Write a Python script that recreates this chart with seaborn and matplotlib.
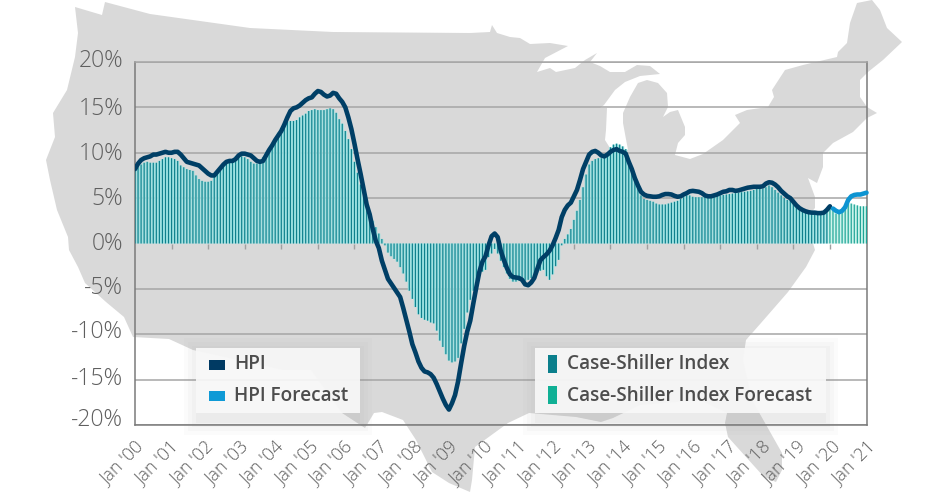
import numpy as np, pandas as pd
import matplotlib
matplotlib.use("Agg")
import matplotlib.pyplot as plt
import seaborn as sns
from matplotlib.patches import Polygon, Rectangle
from matplotlib.transforms import ScaledTranslation

HPI = [
 8.2,8.8,9.2,9.4,9.5,9.6,9.8,9.8,9.9,10.0,10.1,10.0,
 10.0,10.1,10.1,9.8,9.4,9.0,8.9,8.8,8.7,8.6,8.3,8.0,
 7.7,7.5,7.5,7.9,8.3,8.7,9.0,9.1,9.1,9.3,9.7,9.9,
 9.9,9.8,9.7,9.4,9.1,9.0,9.1,9.7,10.3,10.8,11.4,11.9,
 12.4,13.1,13.9,14.6,14.9,15.0,15.2,15.5,15.8,16.0,16.1,16.5,
 16.8,16.7,16.4,16.2,16.3,16.6,16.5,16.0,15.6,15.0,13.9,12.6,
 11.0,9.3,7.7,6.0,4.3,3.2,1.6,0.3,-0.5,-1.9,-2.9,-3.9,
 -4.4,-4.9,-5.4,-5.9,-7.1,-8.4,-9.7,-11.1,-12.0,-13.0,-13.7,-14.1,
 -14.2,-14.4,-14.8,-15.5,-16.3,-17.1,-17.8,-18.3,-17.6,-16.7,-15.2,-13.2,
 -11.3,-9.7,-8.5,-6.6,-4.8,-3.1,-2.0,-1.4,-0.2,0.8,1.1,0.7,
 -0.8,-1.8,-2.7,-3.4,-3.7,-3.75,-3.8,-4.0,-4.5,-4.6,-4.3,-3.8,
 -2.8,-1.85,-1.5,-1.2,-0.8,-0.2,0.6,1.5,2.9,3.7,4.2,4.5,
 5.2,5.9,7.0,8.2,9.0,9.8,10.1,10.2,10.0,9.7,9.6,9.8,
 10.1,10.3,10.4,10.2,10.1,9.9,9.0,8.2,7.2,6.4,5.7,5.4,
 5.25,5.2,5.15,5.15,5.2,5.35,5.45,5.45,5.4,5.25,5.15,5.2,
 5.4,5.55,5.75,5.8,5.75,5.7,5.55,5.3,5.2,5.2,5.3,5.4,
 5.55,5.7,5.75,5.9,5.9,5.8,5.85,5.95,6.05,6.15,6.2,6.25,
 6.25,6.25,6.3,6.6,6.75,6.7,6.5,6.2,5.8,5.5,5.2,5.0,
 4.6,4.2,3.9,3.7,3.55,3.45,3.4,3.4,3.35,3.35,3.4,3.7,
 4.1]
HPI_FORECAST = [3.85,3.6,3.45,3.6,4.0,4.8,5.2,5.35,5.4,5.4,5.5,5.6]
CASE_SHILLER = [
 8.1,8.4,8.7,8.9,9.0,8.9,8.9,8.9,9.1,9.3,9.5,9.5,
 9.4,9.3,9.1,8.6,8.4,8.2,8.1,8.0,7.5,7.1,6.9,6.8,
 6.8,6.9,7.4,7.8,8.3,8.7,9.0,9.1,9.3,9.6,9.7,9.6,
 9.5,9.3,9.0,8.8,8.8,8.9,9.5,10.0,10.3,10.8,11.5,12.2,
 12.7,13.2,13.4,13.5,13.5,13.6,13.9,14.1,14.3,14.6,14.7,14.8,
 14.7,14.7,14.7,14.8,14.9,14.8,14.4,13.7,13.2,12.4,11.5,10.4,
 9.0,7.8,6.5,5.2,4.2,3.3,2.5,1.8,1.1,0.5,-0.2,-1.0,
 -1.4,-1.7,-2.0,-2.6,-3.3,-4.2,-5.2,-6.1,-7.0,-7.8,-8.2,-8.4,
 -8.5,-8.7,-8.8,-9.6,-10.7,-11.4,-12.2,-12.9,-13.1,-13.0,-12.6,-11.0,
 -9.4,-7.6,-6.2,-5.2,-4.1,-3.4,-3.1,-2.9,-1.5,-1.1,-0.6,-1.1,
 -1.9,-2.6,-3.3,-3.9,-4.2,-4.2,-4.1,-4.0,-4.1,-4.0,-3.8,-3.5,
 -3.2,-3.0,-2.9,-3.6,-4.0,-3.4,-2.5,-1.8,-0.2,0.5,1.0,1.6,
 2.6,3.6,4.8,6.2,7.6,8.7,9.1,9.3,9.4,9.4,9.5,9.7,
 10.6,10.9,11.0,10.9,10.7,10.4,9.2,8.1,7.2,6.2,5.3,4.9,
 4.8,4.7,4.6,4.4,4.3,4.3,4.3,4.4,4.5,4.6,4.7,4.9,
 5.1,5.3,5.3,5.15,5.1,5.1,5.1,5.15,5.15,5.2,5.25,5.3,
 5.3,5.35,5.4,5.45,5.5,5.55,5.6,5.65,5.7,5.75,5.8,5.9,
 6.0,6.0,6.05,6.2,6.4,6.2,5.9,5.6,5.3,5.0,4.8,4.7,
 4.5,4.2,3.8,3.5,3.5,3.4,3.4,3.4,3.4,3.45,3.5,3.6]
CASE_SHILLER_FORECAST = [3.9,3.6,3.3,3.4,3.8,4.2,4.4,4.4,4.3,4.2,4.1,4.1,4.1]
X_LABELS = ["Jan '%02d" % y for y in range(0, 22)]
Y_VALUES = [20, 15, 10, 5, 0, -5, -10, -15, -20]
Y_LIFT_PX = [4, 1, 2, 2, 3, 4, 5, 4, 8]
LEGEND_LINES = ["HPI", "HPI Forecast"]
LEGEND_BARS = ["Case-Shiller Index", "Case-Shiller Index Forecast"]

# decorative backdrop outline, image pixels
MAP_OUTLINE = [(75,7),(102,15),(105,2),(150,14),(250,28),(333,32),(470,33),(490,32),(492,25),(497,33),(510,37),
 (520,38),(530,44),(550,43),(568,46),(545,58),(537,72),(550,68),(556,72),(575,68),(585,60),(597,53),(590,62),
 (600,66),(610,72),(625,72),(637,65),(650,66),(660,74),(640,76),(625,82),(615,90),(604,105),(600,108),(607,108),
 (606,130),(605,140),(610,148),(628,150),(623,123),(623,113),(630,97),(638,83),(647,80),(658,83),(667,93),(668,107),
 (663,117),(670,112),(678,110),(685,127),(685,135),(678,143),(675,155),(690,159),(703,154),(723,140),(740,123),
 (735,115),(747,110),(768,107),(774,97),(772,90),(785,70),(803,65),(837,57),(838,52),(847,43),(850,23),(857,3),
 (872,0),(880,10),(887,28),(902,42),(883,60),(868,72),(860,80),(860,97),(867,107),(877,113),(867,118),(853,132),
 (833,143),(823,153),(823,167),(817,183),(808,178),(815,197),(815,208),(803,222),(812,240),(815,250),(806,267),
 (788,292),(761,323),(746,340),(743,360),(752,400),(769,430),(782,453),(782,470),(776,482),(764,477),(746,457),
 (728,437),(725,423),(727,413),(700,400),(640,405),(613,418),(601,422),(576,417),(529,413),(508,423),(475,447),
 (472,480),(470,492),(449,483),(432,472),(416,440),(403,420),(382,412),(374,413),(365,428),(342,413),(311,370),
 (283,370),(193,350),(169,339),(133,337),(124,317),(106,302),(85,283),(78,267),(69,250),(68,237),(57,210),(50,180),
 (46,160),(55,137),(53,113),(67,90),(75,57),(78,33)]

W, H = 947, 504
sns.set_theme(style="white")
plt.rcParams['font.family'] = ['Open Sans', 'DejaVu Sans']
fig = plt.figure(figsize=(W/100, H/100), dpi=100, facecolor="white")
def fx(x): return x / W
def fy(y): return 1 - y / H

fig.add_artist(Polygon([(fx(x), fy(y)) for x, y in MAP_OUTLINE], closed=True, transform=fig.transFigure,
                       fc="#d9d9d9", ec="none", zorder=0))

ax = fig.add_axes([fx(135), fy(425), (866.5-135)/W, (425-62)/H], zorder=1)
ax.patch.set_alpha(0)

n_cs = len(CASE_SHILLER)
x_cs = np.arange(n_cs)
x_csf = np.arange(n_cs, n_cs + len(CASE_SHILLER_FORECAST))
ax.bar(x_cs, CASE_SHILLER, width=1.0, color="#9be2e2", lw=0, zorder=2, snap=False)
ax.bar(x_cs, CASE_SHILLER, width=0.38, color="#0f7f8c", lw=0, zorder=3, snap=False)
ax.bar(x_csf, CASE_SHILLER_FORECAST, width=1.0, color="#c2f2e8", lw=0, zorder=2, snap=False)
ax.bar(x_csf, CASE_SHILLER_FORECAST, width=0.38, color="#1fa396", lw=0, zorder=3, snap=False)

df = pd.DataFrame({"i": np.arange(len(HPI)), "v": HPI})
dff = pd.DataFrame({"i": np.arange(len(HPI), len(HPI)+len(HPI_FORECAST)), "v": HPI_FORECAST})
sns.lineplot(data=df, x="i", y="v", ax=ax, color="#003f66", lw=3.3, zorder=5, solid_joinstyle="round", solid_capstyle="round")
sns.lineplot(data=dff, x="i", y="v", ax=ax, color="#0d94d2", lw=3.3, zorder=5, solid_joinstyle="round", clip_on=False)

ax.set_xlim(0, 240); ax.set_ylim(-20, 20)
ax.set_xlabel(""); ax.set_ylabel("")
for v in [y for y in Y_VALUES if y != 0]:
    ax.axhline(v, color="#a6a6a6", lw=1.1, zorder=1)
ax.vlines(np.arange(12, 240, 12), -0.6, 0, color="#a0a0a0", lw=1, zorder=1)

for s in ["left", "right", "bottom"]:
    ax.spines[s].set_visible(True); ax.spines[s].set_color("#7a7a7a"); ax.spines[s].set_linewidth(1.1)
ax.spines["top"].set_color("#a6a6a6"); ax.spines["top"].set_linewidth(1.1)

ax.set_yticks(Y_VALUES)
ax.set_yticklabels(["%d%%" % v for v in Y_VALUES], fontsize=16.5, color="#5f5f5f", fontweight=300)
ax.tick_params(axis="y", length=0, pad=8.5)
for lab, lift in zip(ax.get_yticklabels(), Y_LIFT_PX):
    lab.set_transform(lab.get_transform() + ScaledTranslation(0, lift/100, fig.dpi_scale_trans))
ax.set_xticks(np.linspace(0, 240, 22))
ax.set_xticklabels(X_LABELS, fontsize=13, color="#5f5f5f", rotation=45, ha="right", rotation_mode="anchor", fontweight=300)
ax.tick_params(axis="x", length=0, pad=9)

def box(x0, y0, x1, y1):
    for grow, a in [(16,.03),(12,.035),(8,.04),(4,.05)]:
        fig.add_artist(Rectangle((fx(x0-grow+4), fy(y1+grow+6)), (x1-x0+2*grow-8)/W, (y1-y0+2*grow)/H,
                                 transform=fig.transFigure, fc="#888888", alpha=a, ec="none", zorder=3))
    fig.add_artist(Rectangle((fx(x0), fy(y1)), (x1-x0)/W, (y1-y0)/H, transform=fig.transFigure,
                             fc="#f8f8f8", alpha=.93, ec="none", zorder=4))

def swatch(x0, y0, x1, y1, c):
    fig.add_artist(Rectangle((fx(x0), fy(y1)), (x1-x0)/W, (y1-y0)/H, transform=fig.transFigure, fc=c, ec="none", zorder=5))

box(196, 348, 360, 413)
box(535, 348, 826, 413)
swatch(209, 360, 225, 370, "#003a63"); swatch(209, 391, 225, 401, "#0f9ad6")
swatch(548, 355, 557, 373, "#0b7f8c"); swatch(548, 386, 557, 404, "#10b095")
for x, names in [(234, LEGEND_LINES), (567, LEGEND_BARS)]:
    for y, t in zip([364, 396], names):
        fig.text(fx(x), fy(y), t, fontsize=13.65, color="#4d4d4d", fontweight=600, va="center", ha="left", zorder=6)

fig.savefig("out.png", dpi=100)
